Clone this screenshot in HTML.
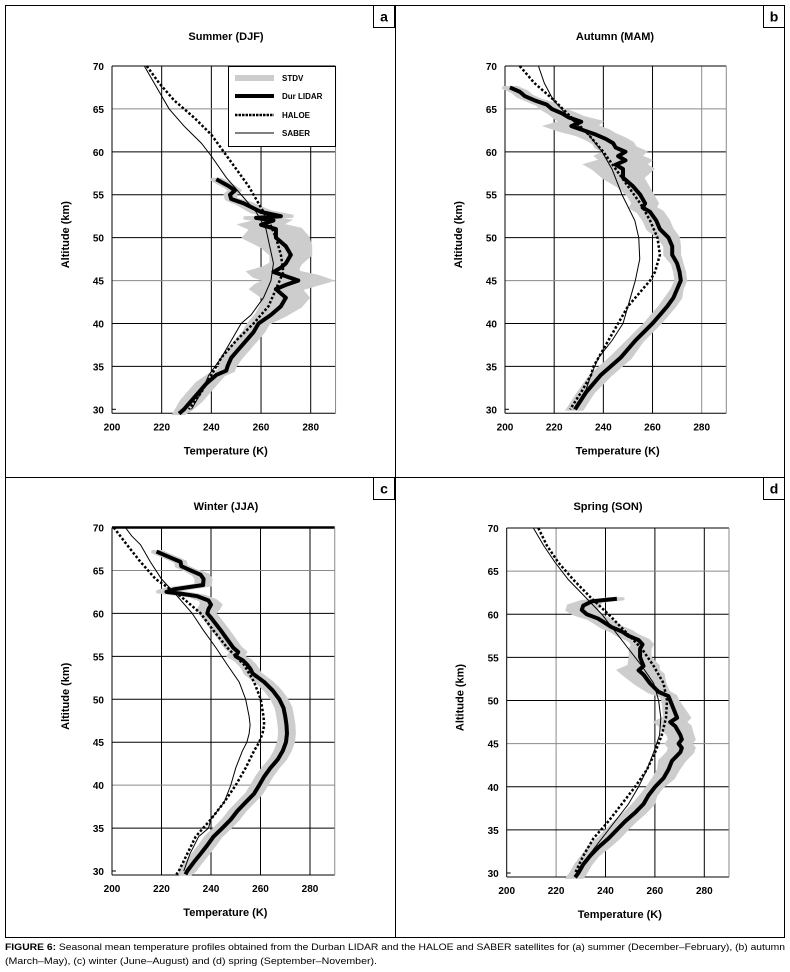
<!DOCTYPE html>
<html><head><meta charset="utf-8">
<style>
html,body{margin:0;padding:0;background:#fff;}
svg{display:block;font-family:"Liberation Sans",sans-serif;}
</style></head>
<body>
<svg id="fig" width="790" height="972" viewBox="0 0 790 972" xmlns="http://www.w3.org/2000/svg">
<rect x="5.5" y="5.5" width="779" height="932" fill="none" stroke="#000" stroke-width="1"/>
<line x1="395.5" y1="5" x2="395.5" y2="938" stroke="#000"/>
<line x1="5" y1="477.5" x2="785" y2="477.5" stroke="#000"/>
<g id="panels"></g>
<text x="5" y="950" font-size="9.5" textLength="780" lengthAdjust="spacingAndGlyphs"><tspan font-weight="bold">FIGURE 6:</tspan> Seasonal mean temperature profiles obtained from the Durban LIDAR and the HALOE and SABER satellites for (a) summer (December–February), (b) autumn</text>
<text x="5" y="964" font-size="9.5" textLength="372" lengthAdjust="spacingAndGlyphs">(March–May), (c) winter (June–August) and (d) spring (September–November).</text>
</svg>
<script>
// ---------- Data ----------
const xTicks = [200, 220, 240, 260, 280];
const yTicks = [30, 35, 40, 45, 50, 55, 60, 65, 70];

// Panel a – Summer (DJF)
const aLidarAlt = [56.8,56,55.5,55,54.5,54,53,52.5,52.3,52,51.5,51,50,49,48,47,46.5,46,45.5,45,44.5,44,43,42,41,40,39,38,37,36,35,34.5,34,33,32,31,30,29.5];
const aLidarT   = [242,247,249.5,247.5,248,253,260,268,258,265,260,266,266,270,272,270,268,265,270,275,270,266,270,268,264,259,257,254,251,248,246.5,246,242,238,235,232,229,227];
const aStdv     = [2,2,2,2,2,3,4,5,5,6,8,10,13,10,8,6,7,10,13,13,12,10,9,8,6,4,4,4,4,4,3,3,3,4,4,4,3,2];
const aSaberAlt = [70,67,65,63,61,59.5,57,55,53,51,49,47,45,43,41,40,38,36,34,32,30];
const aSaberT   = [213,219,223,229,236,240,246,252,258,262,263.5,265,264,261,256,252,248,244,239,236,232];
const aHaloeAlt = [70,68,66,64,62,60,58,56,54,52,50,48,46,44,42,40,38,36,34,32,30];
const aHaloeT   = [214,219,225,233,240,245,250,255,259,263,266,268,269,266,263,257,250,244,240,236,231];

// Panel b – Autumn (MAM)
const bLidarAlt = [67.5,67,66.5,66,65.5,65,64.5,64,63.5,63,62.5,62,61.5,61,60.5,60,59.5,59,58.5,58,57,56,55,54,53.5,53,52,51,50,49,48,47,46,45,44,43,42,41,40,38,36,35,34,32,30];
const bLidarT   = [202,206,208,212,217,219,223,226,231,227,232,237,241,244,245,249,246,249,245,248,248,252,255,257,256,259,261.5,263,266.5,268,268,270,271,271.5,270,268.5,266,263,260,253,247,243,239,233,228.5];
const bStdv     = [3,3,3,3,4,4,5,6,8,10,10,8,8,8,8,8,9,10,12,12,8,6,5,5,5,5,5,5,4,3,3,2,2,2,2,3,3,3,3,3,4,4,4,3,3];
const bSaberAlt = [70,68,66,65,64,62,60,58,55,52,50,47.5,45,42,40,38,36,34,32,30];
const bSaberT   = [213.6,216,219.7,223,226,234,239.5,243.5,247.6,252.8,254.4,254.8,253,250,248,243.5,238,235,232.6,228];
const bHaloeAlt = [70,68,66,64,62,60,58,56,54,52,50,48,46,45,44,42,40,38,36,35,34,32,30];
const bHaloeT   = [206,212,220,227,234,240,245,250,255,259,262,263,261,259,256,250,246,242,238,236,235,231,226.5];

// Panel c – Winter (JJA)
const cLidarAlt = [67.2,66.5,66,65.5,65,64.5,64,63.3,62.8,62.5,62.3,62,61.5,61,60.5,60,59.5,58,56,55.5,55,54.5,54,53.5,53,52,51,50,49,48,47,46,45,44,43,42,41,40,39,38,37,36,35,34,33,32,31,30,29.6];
const cLidarT   = [218,223.6,227.7,228,231.8,235.8,237,236.8,225,222,227.7,234.5,239,240,239,238.5,240,244,249,251,250,253,254.7,256,256.8,261.5,265,267.6,269.3,270,270.5,270.7,270.3,269,267,264,261.5,259.5,257.4,254,250.7,248,244.6,241,238.5,235.8,233,230.4,229.7];
const cStdv     = [2,2,2,2,2,3,3,3,4,4,4,3,3,4,4,3,3,3,3,3,3,3,3,3,3,3,3,3,3,3,3,3,3,3,3,3,3,3,3,3,3,3,3,3,3,3,3,3,2];
const cSaberAlt = [70,69,68,66,64,62,60,58,56,54,52,50,48,47,46,45,44,42,40,38,36,35,34,32,30];
const cSaberT   = [205.4,208,211.5,215.5,220,226.4,232.4,237,242,246.6,251.4,254,255.4,255.8,255.4,254.5,252.7,250,248,245.3,239.9,239,235,231.5,229];
const cHaloeAlt = [70,68,66,64,62,61,60,58,56,54,52,50,48,47,46,45,44,42,40,38,36,34,32,30,29.6];
const cHaloeT   = [200.7,206,211.5,217.6,227.7,231.8,235.8,241,246.6,253.4,257.4,260.1,261.2,261.5,260.8,259.5,257.4,254,250,245.3,239.9,233.8,230.4,227,226];

// Panel d – Spring (SON)
const dLidarAlt = [61.8,61.5,61,60.5,60,59.5,59,58.5,58,57.5,57,56.5,56,55,54,53.5,53,52,51,50.5,50,49,48,47.5,47,46,45.5,45,44.5,44,43,42,41,40,39,38,37,36,35,34,33,32,31,30,29.5];
const dLidarT   = [244.6,234.5,231,230.4,232.4,237,239.8,242.5,246.6,249.3,253.4,255,254,254,255.4,253.4,255.4,258,261.5,265.5,266.2,267.6,269,266.2,268.3,270.3,270.9,269.6,270.9,270.3,266.9,265.5,263.5,260.1,257.4,255.4,252,248,244.6,241.2,237.2,233.8,231,229,227.7];
const dStdv     = [3,4,6,6,5,4,4,4,4,4,4,4,4,4,6,8,8,6,4,3,3,4,5,6,6,5,5,5,5,5,5,4,4,3,3,4,4,4,4,4,4,3,3,3,3];
const dSaberAlt = [70,68,66,64,62,60,58,56,54,52,50,48,46,44,42,40,38,36,34,32,30];
const dSaberT   = [210.8,214.9,219.6,225,231.8,238.5,243.9,249.3,254.7,259.5,261.5,262.4,261.9,259.5,256.8,253.4,249.3,243.9,238.5,233.1,228.4];
const dHaloeAlt = [70,68,66,64,62,60,58,56,54,52,50,48,46,44,42,40,38,36,34,32,30];
const dHaloeT   = [212.8,216.2,220.9,227,233.8,241.2,248,254.7,259.5,263.5,264.9,264.5,262.8,260.1,256.8,252,246.6,241.2,235.1,231,227.7];

// ---------- Drawing ----------
const NS = "http://www.w3.org/2000/svg";
const root = document.getElementById('panels');
function mk(tag, attrs, parent){
  const e = document.createElementNS(NS, tag);
  for (const k in attrs) e.setAttribute(k, attrs[k]);
  (parent||root).appendChild(e);
  return e;
}

function drawPanel(p){
  const g = mk('g', {});
  
  
  const sx = t => p.x200 + (t - 200) * (p.x280 - p.x200) / 80;
  const sy = a => p.y70 + (70 - a) * (p.y30 - p.y70) / 40;
  const left = p.x200, right = sx(290), top = p.y70, bottom = p.y30 + 4;

  xTicks.forEach(t => {
    if (t === 200) return;
    const l = mk('line', {x1: sx(t), x2: sx(t), y1: top, y2: bottom, stroke: p.grayX.includes(t) ? '#8a8a8a' : '#000', 'stroke-width': 1}, g);
    
    
  });
  yTicks.forEach(a => {
    if (a === 30) {
      const tk = mk('line', {x1: left, x2: left + 4, y1: sy(a), y2: sy(a), stroke: '#000', 'stroke-width': 1}, g);
      
      
      return;
    }
    const l = mk('line', {x1: left, x2: right, y1: sy(a), y2: sy(a), stroke: p.grayY.includes(a) ? '#8a8a8a' : '#000', 'stroke-width': (a === 70 && p.thickTop) ? 2.5 : 1}, g);
    
    
  });
  const fl = mk('line', {x1: left, x2: left, y1: top, y2: bottom, stroke: '#000', 'stroke-width': 1}, g);
  
  
  const fb = mk('line', {x1: left, x2: right, y1: bottom, y2: bottom, stroke: '#000', 'stroke-width': 1}, g);
  
  
  const fr = mk('line', {x1: right, x2: right, y1: top, y2: bottom, stroke: '#8a8a8a', 'stroke-width': 1}, g);
  
  

  xTicks.forEach(t => {
    const tx = mk('text', {x: sx(t), y: bottom + 17, 'font-size': 10, 'font-weight': 'bold', 'text-anchor': 'middle'}, g);
    tx.textContent = t;
    
    
  });
  yTicks.forEach(a => {
    const tx = mk('text', {x: left - 8, y: sy(a) + 4, 'font-size': 10, 'font-weight': 'bold', 'text-anchor': 'end'}, g);
    tx.textContent = a;
    
    
  });

  const xt = mk('text', {x: (left + right) / 2 + 2, y: bottom + 41, 'font-size': 11, 'font-weight': 'bold', 'text-anchor': 'middle'}, g);
  xt.textContent = 'Temperature (K)';
  
  
  const cy = (top + bottom) / 2 - 5;
  const yt = mk('text', {x: left - 43, y: cy, 'font-size': 11, 'font-weight': 'bold', 'text-anchor': 'middle', transform: 'rotate(-90 ' + (left - 43) + ' ' + cy + ')'}, g);
  yt.textContent = 'Altitude (km)';
  
  
  const tt = mk('text', {x: p.titleX, y: p.titleY, 'font-size': 11, 'font-weight': 'bold', 'text-anchor': 'middle'}, g);
  tt.textContent = p.title;
  
  

  const lb = mk('rect', {x: p.boxX, y: p.boxY, width: 21, height: 22, fill: '#fff', stroke: '#000', 'stroke-width': 1}, g);
  
  
  const lt = mk('text', {x: p.boxX + 10.5, y: p.boxY + 16, 'font-size': 14, 'font-weight': 'bold', 'text-anchor': 'middle'}, g);
  lt.textContent = p.id;
  
  

  const L = p.lAlt.map((a, i) => sx(p.lT[i] - p.sd[i]) + ',' + sy(a));
  const R = p.lAlt.map((a, i) => sx(p.lT[i] + p.sd[i]) + ',' + sy(a)).reverse();
  const band = mk('polygon', {points: L.concat(R).join(' '), fill: '#cdcdcd', stroke: '#cdcdcd', 'stroke-width': 3, 'stroke-linejoin': 'miter'}, g);
  
  

  const sab = mk('polyline', {points: p.sAlt.map((a, i) => sx(p.sT[i]) + ',' + sy(a)).join(' '), fill: 'none', stroke: '#000', 'stroke-width': 1}, g);
  
  
  const hal = mk('polyline', {points: p.hAlt.map((a, i) => sx(p.hT[i]) + ',' + sy(a)).join(' '), fill: 'none', stroke: '#000', 'stroke-width': 2.5, 'stroke-dasharray': '2.5,2'}, g);
  
  
  const lid = mk('polyline', {points: p.lAlt.map((a, i) => sx(p.lT[i]) + ',' + sy(a)).join(' '), fill: 'none', stroke: '#000', 'stroke-width': 4, 'stroke-linejoin': 'round'}, g);
  
  

  if (p.legend) {
    const lg = mk('g', {}, g);
    
    
    const bx = mk('rect', {x: 228.5, y: 66.5, width: 107, height: 80, fill: '#fff', stroke: '#000', 'stroke-width': 1}, lg);
    
    
    const items = [['STDV', '#cdcdcd', 6, null, 78], ['Dur LIDAR', '#000', 4, null, 96], ['HALOE', '#000', 2.5, '2.5,1', 115], ['SABER', '#000', 1, null, 133]];
    items.forEach(it => {
      const ln = mk('line', {x1: 235, x2: 274, y1: it[4], y2: it[4], stroke: it[1], 'stroke-width': it[2]}, lg);
      if (it[3]) ln.setAttribute('stroke-dasharray', it[3]);
      
      
      const tx = mk('text', {x: 282, y: it[4] + 3, 'font-size': 8, 'font-weight': 'bold'}, lg);
      tx.textContent = it[0];
      
      
    });
  }
}

drawPanel({id: 'a', title: 'Summer (DJF)', titleX: 226, titleY: 40, boxX: 373.5, boxY: 5.5,
  x200: 112, x280: 310.7, y70: 66, y30: 409.3, grayX: [], grayY: [65, 45], legend: true,
  lAlt: aLidarAlt, lT: aLidarT, sd: aStdv, sAlt: aSaberAlt, sT: aSaberT, hAlt: aHaloeAlt, hT: aHaloeT});
drawPanel({id: 'b', title: 'Autumn (MAM)', titleX: 615, titleY: 40, boxX: 763.5, boxY: 5.5,
  x200: 505, x280: 701.7, y70: 66, y30: 409.3, grayX: [280], grayY: [65, 45],
  lAlt: bLidarAlt, lT: bLidarT, sd: bStdv, sAlt: bSaberAlt, sT: bSaberT, hAlt: bHaloeAlt, hT: bHaloeT});
drawPanel({id: 'c', title: 'Winter (JJA)', titleX: 226, titleY: 510, boxX: 373.5, boxY: 477.5,
  x200: 112, x280: 310, y70: 527.5, y30: 871, grayX: [], grayY: [65, 40], thickTop: true,
  lAlt: cLidarAlt, lT: cLidarT, sd: cStdv, sAlt: cSaberAlt, sT: cSaberT, hAlt: cHaloeAlt, hT: cHaloeT});
drawPanel({id: 'd', title: 'Spring (SON)', titleX: 608, titleY: 510, boxX: 763.5, boxY: 477.5,
  x200: 506.7, x280: 704.3, y70: 528, y30: 873, grayX: [220], grayY: [65, 45],
  lAlt: dLidarAlt, lT: dLidarT, sd: dStdv, sAlt: dSaberAlt, sT: dSaberT, hAlt: dHaloeAlt, hT: dHaloeT});
</script>
</body></html>
